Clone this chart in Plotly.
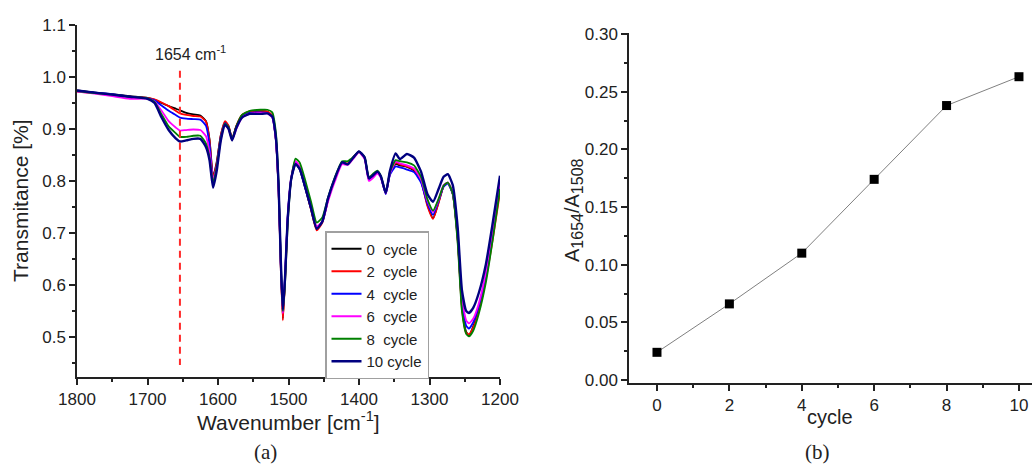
import plotly.graph_objects as go

# ---------------- data ----------------
wavenumber = [1800, 1775, 1750, 1725, 1700, 1690, 1680, 1670, 1660, 1654, 1645, 1635, 1625, 1617, 1612,
              1607, 1602, 1596, 1590, 1585, 1580, 1574, 1566, 1555, 1540, 1530, 1523, 1518, 1514, 1511,
              1508, 1505, 1501, 1496, 1490, 1484, 1476, 1468, 1460, 1452, 1444, 1434, 1424, 1416, 1408,
              1400, 1392, 1386, 1380, 1374, 1369, 1362, 1356, 1348, 1342, 1332, 1322, 1312, 1303, 1295,
              1287, 1280, 1274, 1267, 1260, 1254, 1248, 1244, 1238, 1230, 1220, 1210, 1200]

cycle0 = [.974, .970, .967, .963, .960, .956, .950, .944, .939, .936, .931, .928, .926, .915, .880,
          .808, .835, .888, .913, .905, .881, .905, .926, .933, .935, .933, .925, .880, .780, .640,
          .535, .610, .730, .805, .833, .822, .785, .745, .708, .722, .765, .805, .835, .833, .845,
          .857, .845, .805, .810, .818, .808, .776, .815, .833, .830, .827, .820, .800, .755, .728,
          .760, .790, .797, .775, .690, .560, .510, .503, .520, .555, .620, .700, .795]
cycle2 = [.972, .969, .966, .962, .960, .957, .951, .944, .935, .930, .927, .925, .924, .914, .878,
          .806, .833, .888, .915, .906, .881, .906, .927, .934, .935, .934, .926, .882, .780, .635,
          .532, .605, .728, .806, .838, .826, .787, .745, .705, .720, .763, .804, .835, .834, .846,
          .856, .844, .804, .810, .818, .808, .777, .816, .835, .832, .828, .822, .800, .752, .727,
          .758, .790, .797, .775, .685, .555, .508, .505, .518, .550, .612, .690, .778]
cycle4 = [.973, .970, .967, .962, .959, .955, .945, .935, .927, .922, .920, .919, .918, .906, .870,
          .800, .828, .885, .911, .903, .880, .903, .924, .931, .932, .931, .923, .882, .785, .645,
          .548, .615, .735, .805, .835, .823, .786, .747, .710, .722, .765, .805, .835, .832, .845,
          .856, .844, .803, .809, .816, .807, .775, .812, .828, .826, .822, .817, .797, .757, .735,
          .762, .789, .795, .775, .690, .565, .522, .516, .528, .560, .620, .700, .790]
cycle6 = [.972, .968, .963, .958, .958, .953, .935, .915, .903, .897, .898, .899, .898, .886, .855,
          .803, .825, .880, .908, .900, .879, .900, .922, .929, .931, .930, .922, .880, .782, .642,
          .545, .612, .733, .808, .838, .826, .790, .752, .713, .722, .760, .800, .832, .831, .843,
          .855, .842, .800, .806, .814, .806, .776, .815, .837, .834, .830, .824, .803, .762, .740,
          .765, .792, .797, .778, .695, .575, .532, .526, .535, .565, .625, .710, .798]
cycle8 = [.973, .969, .966, .962, .959, .952, .928, .905, .892, .885, .885, .887, .887, .872, .845,
          .797, .825, .882, .910, .903, .880, .905, .927, .935, .937, .937, .932, .895, .795, .650,
          .550, .600, .720, .805, .843, .835, .800, .760, .720, .730, .768, .808, .838, .838, .846,
          .856, .846, .807, .814, .820, .810, .778, .818, .840, .838, .836, .830, .808, .765, .743,
          .766, .791, .797, .776, .680, .550, .506, .501, .512, .545, .605, .690, .785]
cycle10 = [.974, .970, .966, .962, .958, .950, .922, .898, .882, .876, .878, .881, .881, .865, .840,
           .787, .818, .878, .908, .900, .878, .902, .922, .929, .929, .930, .924, .885, .790, .650,
           .552, .612, .730, .805, .833, .823, .787, .748, .708, .722, .766, .806, .836, .832, .845,
           .857, .845, .805, .811, .818, .809, .777, .820, .853, .842, .852, .845, .818, .775, .760,
           .785, .808, .813, .792, .710, .590, .550, .546, .556, .585, .640, .722, .810]

series_names = ["0\u00a0\u00a0cycle", "2\u00a0\u00a0cycle", "4\u00a0\u00a0cycle",
                "6\u00a0\u00a0cycle", "8\u00a0\u00a0cycle", "10\u00a0cycle"]
series_values = [cycle0, cycle2, cycle4, cycle6, cycle8, cycle10]
series_colors = ["#000000", "#ff0000", "#0000ff", "#ff00ff", "#008000", "#000080"]
series_widths = [1.8, 1.8, 1.8, 1.8, 1.8, 2.4]

cycles = [0, 2, 4, 6, 8, 10]
ratio = [0.024, 0.066, 0.110, 0.174, 0.238, 0.263]

marker_wavenumber = 1654

FONT = "Liberation Sans, Arial, sans-serif"
SERIF = "Liberation Serif, Times New Roman, serif"

fig = go.Figure()

for name, vals, col, w in zip(series_names, series_values, series_colors, series_widths):
    fig.add_trace(go.Scatter(x=wavenumber, y=vals, name=name, mode="lines",
                             line=dict(color=col, width=w, shape="spline", smoothing=0.5),
                             xaxis="x", yaxis="y"))

fig.add_trace(go.Scatter(x=cycles, y=ratio, mode="lines+markers", showlegend=False,
                         line=dict(color="#808080", width=1),
                         marker=dict(symbol="square", size=9, color="#000000"),
                         xaxis="x2", yaxis="y2"))

axis_common = dict(showline=True, linecolor="#222222", linewidth=1.5, ticks="outside",
                   ticklen=6, tickwidth=1.5, tickcolor="#222222", showgrid=False, zeroline=False,
                   mirror=False, automargin=False,
                   tickfont=dict(family=FONT, size=17, color="#222222"))

fig.update_layout(
    width=1032, height=464,
    margin=dict(l=0, r=0, t=0, b=0, autoexpand=False),
    paper_bgcolor="white", plot_bgcolor="white",
    font=dict(family=FONT, color="#222222"),
    xaxis=dict(domain=[77/1032, 500/1032], range=[1800, 1200], anchor="y",
               tickmode="linear", tick0=1200, dtick=100,
               minor=dict(dtick=50, ticks="outside", ticklen=3, tickwidth=1.5, tickcolor="#222222"),
               **axis_common),
    yaxis=dict(domain=[(464-377)/464, (464-25)/464], range=[0.423, 1.1], anchor="x",
               tickmode="linear", tick0=0.5, dtick=0.1, tickformat=".1f",
               minor=dict(dtick=0.05, ticks="outside", ticklen=3, tickwidth=1.5, tickcolor="#222222"),
               **axis_common),
    xaxis2=dict(domain=[629/1032, 1.0], range=[-0.773, 10.36], anchor="y2",
                tickmode="linear", tick0=0, dtick=2,
                minor=dict(dtick=1, ticks="outside", ticklen=3, tickwidth=1.5, tickcolor="#222222"),
                **axis_common),
    yaxis2=dict(domain=[(464-383)/464, (464-33)/464], range=[-0.0026, 0.3009], anchor="x2",
                tickmode="linear", tick0=0, dtick=0.05, tickformat=".2f",
                minor=dict(dtick=0.025, ticks="outside", ticklen=3, tickwidth=1.5, tickcolor="#222222"),
                **axis_common),
    legend=dict(x=325/1032, y=(464-231)/464, xanchor="left", yanchor="top",
                bgcolor="white", bordercolor="#a0a0a0", borderwidth=1.5,
                font=dict(family=FONT, size=15, color="#222222"),
                tracegroupgap=0, itemwidth=30),
    showlegend=True,
)

fig.add_shape(type="line", xref="x", yref="y", x0=marker_wavenumber, x1=marker_wavenumber,
              y0=1.012, y1=0.446, line=dict(color="#ff2a2a", width=2, dash="7px,5px"))

ann = [
    dict(text="1654 cm<sup>-1</sup>", x=190/1032, y=1-53/464, font=dict(size=16)),
    dict(text="Transmitance [%]", x=20/1032, y=1-201/464, textangle=-90, font=dict(size=21)),
    dict(text="Wavenumber [cm<sup>-1</sup>]", x=288/1032, y=1-421/464, font=dict(size=21)),
    dict(text="(a)", x=265/1032, y=1-452/464, font=dict(size=21, family=SERIF)),
    dict(text="cycle", x=830/1032, y=1-417/464, font=dict(size=20)),
    dict(text="A<sub><span style='font-size:16px'>1654</span></sub>/A<sub><span style='font-size:16px'>1508</span></sub>",
         x=573/1032, y=1-210/464, textangle=-90, font=dict(size=20)),
    dict(text="(b)", x=817/1032, y=1-452/464, font=dict(size=21, family=SERIF)),
]
for a in ann:
    fnt = dict(family=FONT, color="#222222")
    fnt.update(a.pop("font"))
    fig.add_annotation(xref="paper", yref="paper", showarrow=False, xanchor="center",
                       yanchor="middle", font=fnt, **a)

fig.write_html("out.html")
